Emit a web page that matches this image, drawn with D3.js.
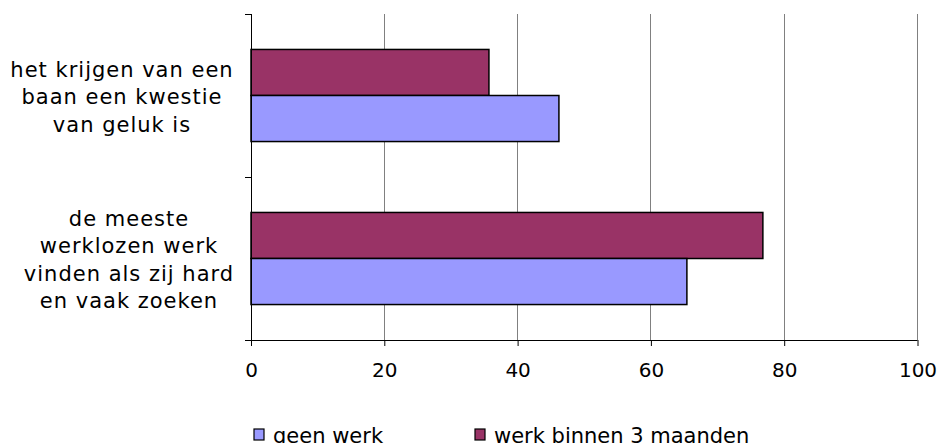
<!DOCTYPE html>
<html>
<head>
<meta charset="utf-8">
<script src="https://cdn.jsdelivr.net/npm/d3@7"></script>
<style>
  html, body { margin: 0; padding: 0; background: #fff; }
  text { font-family: "DejaVu Sans", Verdana, sans-serif; fill: #000; }
</style>
</head>
<body>
<svg id="chart" width="941" height="443"></svg>
<script>
// Statements (top to bottom) and the share agreeing, per group
const categories = [
  ["het krijgen van een", "baan een kwestie", "van geluk is"],
  ["de meeste", "werklozen werk", "vinden als zij hard", "en vaak zoeken"]
];
const seriesNames = ["werk binnen 3 maanden", "geen werk"];
const werkBinnen3 = [35.7, 76.8];
const geenWerk = [46.2, 65.4];
const xTicks = [0, 20, 40, 60, 80, 100];
const colors = { "geen werk": "#9999ff", "werk binnen 3 maanden": "#993366" };

const svg = d3.select("#chart");
const plotL = 251, plotR = 917.5, plotT = 14, plotB = 340;

const x = d3.scaleLinear().domain([0, 100]).range([plotL, plotR]);
const y = d3.scaleBand().domain(d3.range(categories.length)).range([plotT, plotB]);
const inner = d3.scaleBand().domain(seriesNames).range([0, y.bandwidth()]).paddingOuter(0.77);

// vertical gridlines
svg.append("g").selectAll("line").data(xTicks.slice(1)).join("line")
  .attr("x1", d => x(d)).attr("x2", d => x(d))
  .attr("y1", plotT).attr("y2", plotB)
  .attr("stroke", "#808080").attr("stroke-width", 1).attr("shape-rendering", "crispEdges");

// bars
const rows = categories.map((c, i) => ({ i, values: [
  { name: "werk binnen 3 maanden", v: werkBinnen3[i] },
  { name: "geen werk", v: geenWerk[i] }
]}));
svg.append("g").selectAll("g").data(rows).join("g")
  .attr("transform", d => `translate(0,${y(d.i)})`)
  .selectAll("rect").data(d => d.values).join("rect")
  .attr("x", x(0)).attr("y", d => inner(d.name))
  .attr("width", d => x(d.v) - x(0)).attr("height", inner.bandwidth())
  .attr("fill", d => colors[d.name]).attr("stroke", "#000").attr("stroke-width", 1.5);

// x axis
const xAxis = d3.axisBottom(x).tickValues(xTicks).tickSize(6).tickPadding(17).tickFormat(d3.format("d"));
const gx = svg.append("g").attr("transform", `translate(0,${plotB})`).call(xAxis);
gx.select(".domain").attr("d", `M${plotL - 6},0.5H${plotR}`).attr("stroke", "#000");
gx.selectAll(".tick line").attr("stroke", "#000");
gx.selectAll(".tick text").attr("font-size", 20).attr("font-family", "DejaVu Sans, Verdana, sans-serif");

// y axis (category separators)
const gy = svg.append("g");
gy.append("line").attr("x1", plotL).attr("x2", plotL).attr("y1", plotT).attr("y2", plotB)
  .attr("stroke", "#000").attr("shape-rendering", "crispEdges");
gy.selectAll(".sep").data([plotT, y(1), plotB]).join("line").attr("class", "sep")
  .attr("x1", plotL - 6).attr("x2", plotL).attr("y1", d => d).attr("y2", d => d)
  .attr("stroke", "#000").attr("shape-rendering", "crispEdges");

// category labels, wrapped over several centred lines
const lh = 27.5;
const labelX = [122, 129];
svg.append("g").selectAll("text").data(categories).join("text")
  .attr("text-anchor", "middle").attr("font-size", 21).attr("letter-spacing", 1)
  .attr("y", (d, i) => y(i) + y.bandwidth() / 2 - (d.length - 1) * lh / 2 + 8.5)
  .each(function(lines, i) {
    d3.select(this).selectAll("tspan").data(lines).join("tspan")
      .attr("x", labelX[i]).attr("dy", (l, j) => j === 0 ? 0 : lh).text(l => l);
  });

// legend
const legendItems = [
  { name: "geen werk", x: 254 },
  { name: "werk binnen 3 maanden", x: 475 }
];
const lg = svg.append("g").selectAll("g").data(legendItems).join("g")
  .attr("transform", d => `translate(${d.x},429)`);
lg.append("rect").attr("width", 10).attr("height", 11)
  .attr("fill", d => colors[d.name]).attr("stroke", "#000").attr("stroke-width", 1.2);
lg.append("text").attr("x", 19).attr("y", 13.5).attr("font-size", 21).text(d => d.name);
</script>
</body>
</html>
